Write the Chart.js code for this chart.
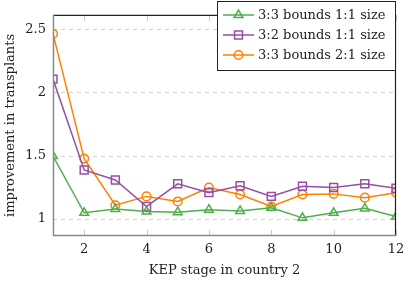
<!DOCTYPE html>
<html>
<head>
<meta charset="utf-8">
<script src="https://cdn.jsdelivr.net/npm/chart.js@4/dist/chart.umd.min.js"></script>
<style>
html,body{margin:0;padding:0;background:#fff;}
#wrap{width:411px;height:284px;}
</style>
</head>
<body>
<div id="wrap"><canvas id="c" width="411" height="284"></canvas></div>
<script>
const stages = [1,2,3,4,5,6,7,8,9,10,11,12];
const bounds33size11 = [1.50,1.05,1.08,1.06,1.055,1.075,1.065,1.09,1.01,1.05,1.085,1.02];
const bounds32size11 = [2.11,1.39,1.31,1.10,1.28,1.21,1.265,1.18,1.26,1.25,1.28,1.245];
const bounds33size21 = [2.47,1.48,1.11,1.18,1.14,1.25,1.195,1.10,1.195,1.20,1.17,1.21];
const seriesNames = ['3:3 bounds 1:1 size','3:2 bounds 1:1 size','3:3 bounds 2:1 size'];
const xTicks = [2,4,6,8,10,12];
const yTicks = [1,1.5,2,2.5];
const xTitle = 'KEP stage in country 2';
const yTitle = 'improvement in transplants';

const FONT = 'DejaVu Serif';
const FS = 13;
const colors = ['#4daf4a','#984ea3','#ff7f00'];
const shapes = ['triangle','rect','circle'];
const radii = [5,5.6,4.3];

function pts(arr){ return stages.map((s,i)=>({x:s,y:arr[i]})); }
const seriesData = [bounds33size11,bounds32size11,bounds33size21];

const datasets = seriesData.map((arr,i)=>({
  label: seriesNames[i],
  data: pts(arr),
  borderColor: colors[i],
  backgroundColor: 'rgba(0,0,0,0)',
  pointBackgroundColor: 'rgba(0,0,0,0)',
  pointBorderColor: colors[i],
  pointStyle: shapes[i],
  pointRadius: radii[i],
  pointBorderWidth: 1.5,
  borderWidth: 1.5,
  tension: 0,
  fill: false
}));

const framePlugin = {
  id: 'frame',
  afterDraw(chart){
    const ctx = chart.ctx;
    const a = chart.chartArea;
    const xs = chart.scales.x;
    ctx.save();
    ctx.strokeStyle = '#c8c8c8';
    ctx.lineWidth = 1;
    xTicks.forEach(v=>{
      const px = Math.round(xs.getPixelForValue(v))+0.5;
      ctx.beginPath();
      ctx.moveTo(px,a.bottom); ctx.lineTo(px,a.bottom-6);
      ctx.moveTo(px,a.top); ctx.lineTo(px,a.top+6);
      ctx.stroke();
    });
    ctx.lineWidth = 1.2;
    ctx.strokeStyle = '#222';
    ctx.beginPath();
    ctx.moveTo(a.left, a.top+0.5); ctx.lineTo(a.right, a.top+0.5);
    ctx.moveTo(a.right-0.5, a.top); ctx.lineTo(a.right-0.5, a.bottom);
    ctx.stroke();
    ctx.strokeStyle = '#8a8a8a';
    ctx.lineWidth = 1.5;
    ctx.beginPath();
    ctx.moveTo(a.left+0.5, a.top); ctx.lineTo(a.left+0.5, a.bottom);
    ctx.moveTo(a.left, a.bottom-0.5); ctx.lineTo(a.right, a.bottom-0.5);
    ctx.stroke();

    const bx = 217.5, by = 1.5, bw = 178, bh = 69;
    ctx.fillStyle = '#fff';
    ctx.fillRect(bx,by,bw,bh);
    ctx.strokeStyle = '#222';
    ctx.lineWidth = 1;
    ctx.strokeRect(bx,by,bw,bh);
    ctx.font = FS + 'px "' + FONT + '"';
    ctx.textBaseline = 'middle';
    ctx.textAlign = 'left';
    chart.data.datasets.forEach((ds,i)=>{
      const y = 15 + i*20;
      ctx.strokeStyle = ds.borderColor;
      ctx.lineWidth = 1.5;
      ctx.beginPath(); ctx.moveTo(223,y); ctx.lineTo(254,y); ctx.stroke();
      ctx.fillStyle = 'rgba(0,0,0,0)';
      Chart.helpers.drawPoint(ctx,{pointStyle:ds.pointStyle,radius:ds.pointRadius,borderWidth:1.5,rotation:0},238.5,y);
      ctx.fillStyle = '#222';
      ctx.fillText(ds.label, 258, y+1);
    });
    ctx.restore();
  }
};

new Chart(document.getElementById('c'), {
  type: 'line',
  data: { datasets },
  options: {
    responsive: false,
    animation: false,
    devicePixelRatio: 1,
    layout: { padding: { left: 0, top: 1, right: 15, bottom: 0 } },
    plugins: { legend: { display: false }, tooltip: { enabled: false } },
    scales: {
      x: {
        type: 'linear', min: 1, max: 12,
        afterFit(s){ s.height = 48; },
        afterBuildTicks(s){ s.ticks = xTicks.map(v=>({value:v})); },
        grid: { display: false, drawTicks: false },
        border: { display: false },
        ticks: { color: '#222', padding: 6, font: { family: FONT, size: FS }, callback: v => String(v) },
        title: { display: true, text: xTitle, color: '#222', padding: { top: 0, bottom: 6 }, font: { family: FONT, size: FS } }
      },
      y: {
        type: 'linear', min: 0.866, max: 2.62,
        afterFit(s){ s.width = 53; },
        afterBuildTicks(s){ s.ticks = yTicks.map(v=>({value:v})); },
        grid: { color: '#cfcfcf', lineWidth: 1, drawTicks: false },
        border: { display: false, dash: [4,4] },
        ticks: { color: '#222', padding: 7, font: { family: FONT, size: FS }, callback: v => String(v) },
        title: { display: true, text: yTitle, color: '#222', padding: { top: 3, bottom: 0 }, font: { family: FONT, size: FS } }
      }
    }
  },
  plugins: [framePlugin]
});
</script>
</body>
</html>
